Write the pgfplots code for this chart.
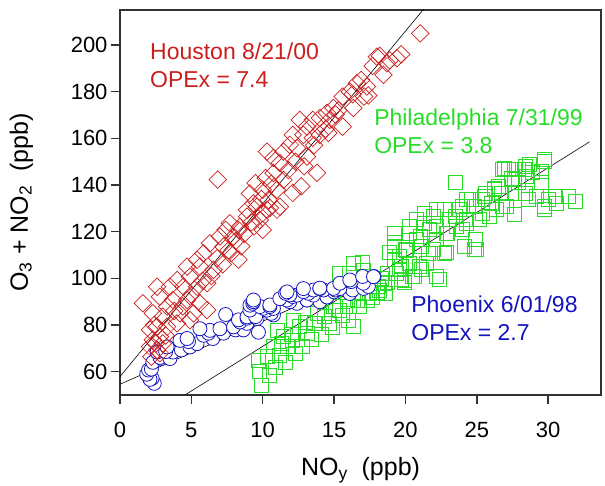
\documentclass[border=0pt]{standalone}
\usepackage{fontspec}
\setmainfont{Liberation Sans}
\usepackage{pgfplots}
\pgfplotsset{compat=1.18}
\definecolor{hou}{RGB}{204,30,30}
\definecolor{phl}{RGB}{40,220,40}
\definecolor{phx}{RGB}{20,20,190}
\definecolor{axc}{RGB}{50,50,50}

\begin{document}
\begin{tikzpicture}
\begin{axis}[
    name=ax,
    scale only axis,
    width=481bp, height=385bp,
    xmin=0, xmax=33.7, ymin=50, ymax=215,
    xtick={0,5,...,30}, ytick={60,80,...,200},
    tick align=outside, tick pos=left,
    major tick length=9bp,
    axis line style={line width=1.4bp, axc},
    every tick/.style={line width=1.4bp, axc},
    /pgf/number format/assume math mode=true,
    ticklabel style={font=\fontsize{22bp}{26bp}\selectfont},
    xticklabel style={yshift=-15bp},
    label style={font=\fontsize{25bp}{30bp}\selectfont},
    xlabel={NO\textsubscript{y}\ \ (ppb)},
    ylabel={O\textsubscript{3} + NO\textsubscript{2}\ \ (ppb)},
    xlabel style={at={(axis description cs:0.5,-0.195)}, anchor=center},
    ylabel style={at={(axis description cs:-0.205,0.5)}, anchor=center},
]
% fit lines
\addplot[black, line width=0.6bp] coordinates {(0,57.9) (21.4,216.3)};
\addplot[black, line width=0.6bp] coordinates {(0,54.6) (18,103.2)};
\addplot[black, line width=0.6bp] coordinates {(4.55,50) (32.9,158.5)};

% Philadelphia 7/31/99
\addplot[only marks, color=phl, mark=square, mark size=7bp,
    mark options={line width=0.8bp}] coordinates {
(9.93,54.3) (10.5,58.6) (9.8,60) (9.7,65) (10.3,66.4) (11.2,67.1)
(10.75,70.7) (11.7,70.7) (11.45,75) (12.1,73.6) (11.0,77.9) (12.6,79.3)
(13.1,76.4) (13.6,80.7) (12.15,82.1) (14.3,83.6) (14.7,80.7) (16.36,79.3)
(15.4,86.4) (16.1,87.9) (14.96,87.9) (16.6,90.7) (17.3,90.7) (17.5,93.6)
(18.2,95) (18.5,97.9) (16.36,106.4) (15.4,102.1) (16.1,102.1) (17.07,103.6)
(19.2,107.9) (19.4,102.1) (19.9,99.3) (18.7,102.1) (19.2,113.6) (20.1,112.1)
(10.9,62) (11.6,64) (12.3,68) (12.8,71) (13.4,74) (14.1,76) (11.3,72)
(12.0,76) (13.0,81) (14.9,79) (15.6,84) (16.0,82) (16.8,88) (17.7,92)
(18.3,100) (18.0,94) (17.3,98) (13.8,85) (15.1,87.9) (15.9,90.8) (17.0,93.6)
(18.1,96.5) (19.7,99.4) (19.7,105.1) (20.3,106.5) (21.1,103.7) (22.4,99.4)
(19.2,119.4) (20.3,119.4) (20.8,125.1) (21.3,128) (20.8,116.5) (21.6,110.8)
(21.1,113.7) (22.7,110.8) (22.96,119.4) (22.15,122.3) (23.5,126.6) (24.0,120.8)
(24.9,116.5) (25.0,112.2) (24.0,130.8) (24.6,133.7) (25.4,128) (25.4,133.7)
(26.2,138) (25.9,126.6) (26.8,130.8) (27.6,136.6) (26.8,146.6) (27.6,142.3)
(28.4,148) (28.9,145.2) (29.7,150.9) (29.5,140.9) (29.2,135.2) (29.99,133.7)
(29.7,129.4) (28.6,133.7) (30.5,135.2) (31.4,135.2) (31.9,133) (23.5,140.9)
(22.15,129.4) (26.5,139.5) (27.9,146.6) (27.2,146.6) (25.6,136.6) (24.3,125.1)
(20.0,112.2) (19.2,108) (20.5,100.8) (18.6,93.6) (17.0,107)
(30.6,132.2) (29.7,130.8) (28.4,136.6) (27.9,140.9) (28.5,143.7) (27.6,146.6)
(26.9,147.3) (28.7,148.7) (29.7,150.1) (29.5,145.8) (28.3,146.6) (27.4,143.0)
(26.2,138.7) (26.7,136.6) (25.5,135.1) (26.0,132.2) (27.1,130.8) (27.6,127.3)
(26.4,129.4) (24.8,130.8) (24.3,133.7) (23.8,129.4) (23.1,125.1) (22.7,129.4)
(21.97,126.6) (21.3,123.7) (20.3,122.3) (21.7,120.9) (21.04,118) (22.2,116.6)
(22.9,119.4) (23.6,122.3) (24.3,123.7) (25.2,125.1) (24.8,112.3) (24.1,113.7)
(22.9,110.9) (21.97,112.3) (21.5,106.6) (21.0,105.2) (22.2,100.9) (20.6,100.9)
(19.6,103.8) (19.2,115.2) (18.9,110.9) (18.7,98.1) (19.6,109.5) (20.1,112.3)
(19.9,98.1)
};

% Phoenix 6/01/98
\addplot[only marks, color=phx, mark=*, mark size=7bp,
    mark options={fill=white, line width=0.8bp}] coordinates {
(2.4,55) (2.25,57.1) (2.1,56.7) (1.87,58.9) (2.0,60.7) (2.2,61.1) (2.3,64)
(2.9,65.7) (2.8,66.1) (3.5,65.6) (2.6,68.4) (3.7,68.4) (3.2,68.6) (4.3,69.3)
(3.3,70.6) (4.9,70.6) (5.4,72) (4.8,72.9) (4.2,73.4) (4.7,74.2) (6.5,74.2)
(5.85,75.6) (6.2,76.5) (7.25,76.5) (6.3,77.7) (5.6,78.4) (7.0,78.4) (8.1,77.9)
(8.65,77.9) (9.7,76.9) (7.95,79.2) (8.9,80.7) (8.4,81.3) (8.3,82.2) (8.9,82.9)
(9.6,82.8) (8.9,83.5) (9.5,83.6) (7.4,84.5) (10.75,84.3) (10.6,85) (9.1,86.4)
(10.3,86.4) (10.05,87.2) (10.75,87.1) (9.8,87.9) (10.5,87.9) (9.1,88.5)
(10.5,88.6) (9.3,89.3) (12.4,89.3) (9.35,90) (14.0,90.0) (11.9,90) (9.35,90.7)
(11.7,90.7) (13.1,90.7) (13.1,90.7) (11.2,91.3) (14.5,92.1) (12.1,92.2)
(12.4,92.8) (13.55,92.8) (14.5,92) (11.9,92.9) (16.1,93.5) (11.6,93.6)
(13.2,93.6) (11.7,94.2) (15.0,94.2) (12.86,94.3) (13.56,95.0) (14.26,95.0)
(16.3,95) (15.1,95) (12.85,95.6) (14.0,95.6) (15.4,95.6) (14.96,95.7)
(17.06,95.7) (14.0,95.8) (17.4,96.5) (15.4,97.9) (17.05,97.9) (16.2,98.6)
(16.1,99.3) (17.0,100.8) (17.8,100.8) (17.76,100.7)
};

% Houston 8/21/00
\addplot[only marks, color=hou, mark=square, mark size=6.2bp,
    mark options={rotate=45, line width=0.7bp}] coordinates {
(21.04,205.0) (19.4,194.3) (18.46,187.2) (18.0,195) (18.7,192.2) (17.3,182.2)
(16.6,183.6) (17.1,177.9) (16.1,180) (15.6,177.9) (16.35,173) (15.6,165)
(14.95,173) (14.5,170.9) (14.0,168.7) (14.7,167.9) (13.5,167.9) (12.6,167.9)
(13.1,165) (14.0,161.5) (13.5,160.2) (12.85,161.5) (12.1,161.5) (11.9,157.2)
(12.4,155.8) (13.1,152.2) (11.45,154.3) (10.75,151.6) (10.3,154.3) (11.2,149.4)
(11.8,146.4) (10.75,145.1) (11.45,142.2) (9.5,140.8) (10.0,137.9) (11.0,137.9)
(9.1,136.4) (10.4,133.6) (11.2,130.7) (9.6,130.7) (8.9,129.3) (10.0,127.9)
(10.3,129.3) (9.35,132.1) (9.8,125) (8.9,126.4) (8.4,122.1) (7.7,123.6)
(7.0,117.9) (7.95,117.9) (7.25,113.6) (6.3,115) (5.85,110.7) (6.8,108.6)
(5.4,107.9) (4.7,105) (5.6,105) (6.55,103.6) (4.9,100.7) (4.0,99.3)
(3.5,96.4) (2.6,96.4) (4.45,96.4) (5.4,96.4) (6.1,97.9) (1.6,89.3)
(2.8,92.1) (3.7,90.7) (4.7,90.7) (5.6,89.3) (6.1,86.4) (5.15,85)
(4.2,85) (3.3,87.9) (3.0,83.6) (2.3,85) (2.6,79.3) (2.1,77.9)
(3.3,79.3) (4.0,80.7) (4.9,82.1) (2.3,73.6) (2.8,75) (2.1,70.7)
(2.6,69.3) (3.0,72.1) (2.2,66.4) (2.8,67.9)
(6.85,142.3) (19.7,196) (17.4,178.4) (7.8,110.8) (8.3,108) (8.5,113.7)
(7.4,120.8) (8.3,120.8) (9.4,122.3) (10.0,120.8) (10.5,130.1) (11.0,129.4)
(12.1,136.6) (12.7,139.4) (13.8,145.2) (14.6,162.3) (15.1,170.2) (16.3,178.9)
(17.7,191) (18.9,193.4) (18.2,195.3)
(3.2,75.5) (2.5,72) (2.4,80) (3.8,86) (4.4,88) (5.0,93) (5.8,99) (6.4,101)
(7.2,106) (7.6,112) (8.1,116) (8.7,119) (9.2,124) (9.9,134) (10.6,140.5)
(10.2,143) (12.3,150) (13.6,157) (14.4,164) (15.3,172) (16.9,185) (12.9,148)
};

\node[anchor=north west, inner sep=0pt, align=left, text=hou,
    font=\fontsize{23bp}{27.7bp}\selectfont] at (axis cs:2.1,201) {Houston 8/21/00\\OPEx = 7.4};
\node[anchor=north west, inner sep=0pt, align=left, text=phl,
    font=\fontsize{23bp}{27.7bp}\selectfont] at (axis cs:17.8,172.6) {Philadelphia 7/31/99\\OPEx = 3.8};
\node[anchor=north west, inner sep=0pt, align=left, text=phx,
    font=\fontsize{23bp}{27.7bp}\selectfont] at (axis cs:20.4,92.5) {Phoenix 6/01/98\\OPEx = 2.7};
\end{axis}
\pgfresetboundingbox
\path[use as bounding box] ([shift={(-120bp,-91bp)}]ax.south west) rectangle ([shift={(4bp,10bp)}]ax.north east);
\end{tikzpicture}
\end{document}
